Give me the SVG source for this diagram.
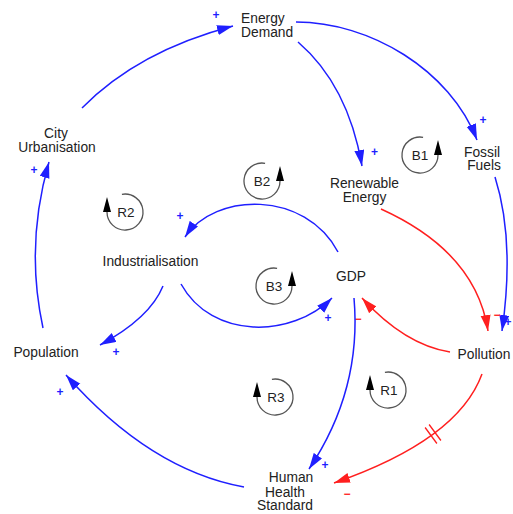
<svg xmlns="http://www.w3.org/2000/svg" width="513" height="514" viewBox="0 0 513 514">
  <defs>
    <marker id="ahBlue" markerUnits="userSpaceOnUse" markerWidth="17" markerHeight="11" refX="16" refY="5" orient="auto">
      <path d="M0,0 L16,5 L0,10 Z" fill="#1f1fff"/>
    </marker>
    <marker id="ahRed" markerUnits="userSpaceOnUse" markerWidth="17" markerHeight="11" refX="16" refY="5" orient="auto">
      <path d="M0,0 L16,5 L0,10 Z" fill="#ff1f1f"/>
    </marker>
  </defs>
  <style>
    .node text { font-family: "Liberation Sans", Arial, sans-serif; font-size: 13.8px; fill: #222; text-anchor: middle; }
    .link { fill: none; stroke-width: 1.5; }
    .pos { stroke: #1f1fff; marker-end: url(#ahBlue); }
    .neg { stroke: #ff1f1f; marker-end: url(#ahRed); }
    .delay { stroke: #ff1f1f; stroke-width: 1.3; fill: none; }
    .plus { font-family: "Liberation Sans", Arial, sans-serif; font-size: 12px; font-weight: bold; fill: #1f1fff; text-anchor: middle; }
    .minus { font-family: "Liberation Sans", Arial, sans-serif; font-size: 12px; font-weight: bold; fill: #ff1f1f; text-anchor: middle; }
    .loop path { fill: none; stroke: #555; stroke-width: 1.3; }
    .loop polygon { fill: #000; }
    .loop text { font-family: "Liberation Sans", Arial, sans-serif; font-size: 13.5px; fill: #222; text-anchor: middle; }
  </style>

  <rect width="513" height="514" fill="#fff"/>

  <!-- causal links -->
  <g id="links">
    <!-- City Urbanisation -> Energy Demand -->
    <path class="link pos" d="M82,108 Q138,51 233,26"/>
    <text class="plus" x="216" y="19">+</text>
    <!-- Energy Demand -> Fossil Fuels -->
    <path class="link pos" d="M296,22 C370,22 450,70 477,140"/>
    <text class="plus" x="483" y="124">+</text>
    <!-- Energy Demand -> Renewable Energy -->
    <path class="link pos" d="M298,42 Q348,85 362,166"/>
    <text class="plus" x="374.5" y="156">+</text>
    <!-- Fossil Fuels -> Pollution -->
    <path class="link pos" d="M495,177 Q515,240 502,331"/>
    <text class="plus" x="508" y="326">+</text>
    <!-- Renewable Energy -> Pollution -->
    <path class="link neg" d="M381,209 Q476,252 488,331"/>
    <text class="minus" x="497" y="319">−</text>
    <!-- Pollution -> GDP -->
    <path class="link neg" d="M450,352 Q405,345 362,298"/>
    <text class="minus" x="358" y="323">−</text>
    <!-- GDP -> Human Health Standard -->
    <path class="link pos" d="M354,298 Q362,390 309,469"/>
    <text class="plus" x="325" y="469">+</text>
    <!-- Pollution -> Human Health Standard (delayed) -->
    <path class="link neg" d="M482,374 Q458,440 334,483"/>
    <path class="delay" d="M425.1,427.5 L436.9,443.5 M429.1,424.5 L440.9,440.5"/>
    <text class="minus" x="347" y="498">−</text>
    <!-- Human Health Standard -> Population -->
    <path class="link pos" d="M244,487 Q150,470 66,375"/>
    <text class="plus" x="60" y="396">+</text>
    <!-- Population -> City Urbanisation -->
    <path class="link pos" d="M43,328 Q25,245 49,162"/>
    <text class="plus" x="34" y="173.5">+</text>
    <!-- Industrialisation -> Population -->
    <path class="link pos" d="M163,286 Q150,318 100,345"/>
    <text class="plus" x="116" y="356">+</text>
    <!-- Industrialisation -> GDP -->
    <path class="link pos" d="M181,284 C212,340 292,338 332,298"/>
    <text class="plus" x="328" y="322">+</text>
    <!-- GDP -> Industrialisation -->
    <path class="link pos" d="M338,252 C305,190 215,192 185,237"/>
    <text class="plus" x="180" y="220">+</text>
  </g>

  <!-- variables -->
  <g id="energy-demand" class="node">
    <text x="241" y="23" style="text-anchor:start">Energy</text>
    <text x="241" y="36.5" style="text-anchor:start">Demand</text>
  </g>
  <g id="fossil-fuels" class="node">
    <text x="482" y="156.5">Fossil</text>
    <text x="484" y="170">Fuels</text>
  </g>
  <g id="renewable-energy" class="node">
    <text x="364.5" y="188">Renewable</text>
    <text x="364.5" y="201.5">Energy</text>
  </g>
  <g id="city-urbanisation" class="node">
    <text x="56" y="138">City</text>
    <text x="57" y="151.5">Urbanisation</text>
  </g>
  <g id="industrialisation" class="node">
    <text x="150.5" y="266">Industrialisation</text>
  </g>
  <g id="gdp" class="node">
    <text x="351" y="280.5">GDP</text>
  </g>
  <g id="population" class="node">
    <text x="46" y="356.5">Population</text>
  </g>
  <g id="pollution" class="node">
    <text x="484" y="359">Pollution</text>
  </g>
  <g id="human-health-standard" class="node">
    <text x="291" y="481.5">Human</text>
    <text x="285" y="496.5">Health</text>
    <text x="285" y="510">Standard</text>
  </g>

  <!-- loop identifiers -->
  <g id="loop-b1" class="loop">
    <path d="M423.1,137.3 A18,18 0 1 0 438,155"/>
    <polygon points="434,155 442,155 438,140"/>
    <text x="420" y="160">B1</text>
  </g>
  <g id="loop-b2" class="loop">
    <path d="M265.1,163.3 A18,18 0 1 0 280,181"/>
    <polygon points="276,181 284,181 280,166"/>
    <text x="262" y="186">B2</text>
  </g>
  <g id="loop-b3" class="loop">
    <path d="M277.1,268.3 A18,18 0 1 0 292,286"/>
    <polygon points="288,286 296,286 292,271"/>
    <text x="274" y="291">B3</text>
  </g>
  <g id="loop-r2" class="loop">
    <path d="M121.9,194.3 A18,18 0 1 1 107,212"/>
    <polygon points="103,212 111,212 107,197"/>
    <text x="126" y="217">R2</text>
  </g>
  <g id="loop-r3" class="loop">
    <path d="M271.9,379.3 A18,18 0 1 1 257,397"/>
    <polygon points="253,397 261,397 257,382"/>
    <text x="276" y="402">R3</text>
  </g>
  <g id="loop-r1" class="loop">
    <path d="M384.9,372.3 A18,18 0 1 1 370,390"/>
    <polygon points="366,390 374,390 370,375"/>
    <text x="389" y="395">R1</text>
  </g>
</svg>
